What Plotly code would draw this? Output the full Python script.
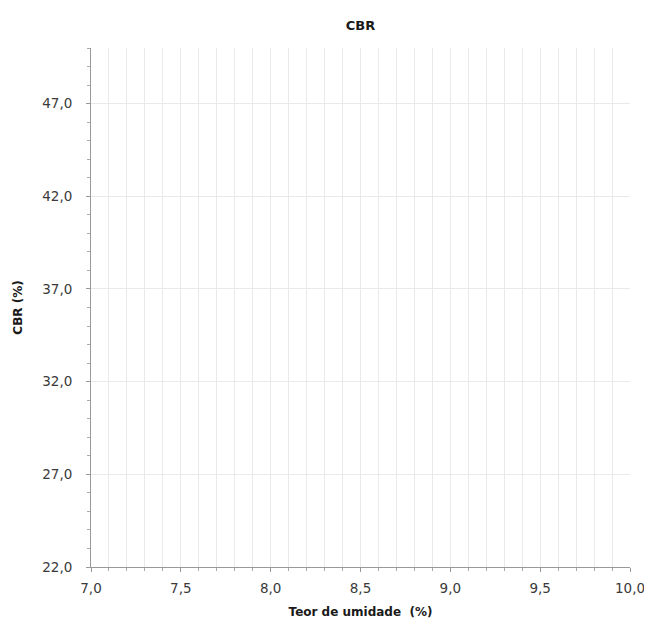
import plotly.graph_objects as go

# Data (chart is empty: only axes)
teor_umidade = []   # x values (%)
cbr_values = []     # y values (%)
x_range = [7.0, 10.0]
y_range = [22.0, 50.0]
x_major = 0.5
x_minor = 0.1
y_tick0 = 22.0
y_major = 5.0
y_minor = 1.0

fig = go.Figure()
fig.add_trace(go.Scatter(x=teor_umidade, y=cbr_values, mode="lines+markers",
                         showlegend=False))

FONT = "DejaVu Sans, Liberation Sans, Arial, sans-serif"
axis_font = dict(family=FONT, size=13.5, color="#3a3a3a")
title_font = dict(family=FONT, size=12, color="#1a1a1a")

W, H = 644, 621  # page body has an 8px margin

fig.update_layout(
    width=W, height=H,
    margin=dict(l=83, r=22, t=40, b=62),
    paper_bgcolor="white", plot_bgcolor="white",
    separators=",.",
    title=dict(text="<b>CBR</b>", x=0.5, xref="paper", xanchor="center",
               y=1 - 17 / H, yanchor="middle",
               font=dict(family=FONT, size=13, color="#1a1a1a")),
    xaxis=dict(
        range=x_range, tick0=x_range[0], dtick=x_major, tickformat=".1f",
        showgrid=True, gridcolor="#e9e9e9", gridwidth=1,
        showline=True, linecolor="#999", linewidth=1,
        ticks="outside", ticklen=4, tickcolor="#999",
        ticklabelstandoff=5,
        minor=dict(dtick=x_minor, tick0=x_range[0], showgrid=True, gridcolor="#e9e9e9",
                   ticks="outside", ticklen=3, tickcolor="#aaa"),
        tickfont=axis_font, zeroline=False, automargin=False,
        title=dict(text="<b>Teor de umidade  (%)</b>", font=title_font, standoff=12),
    ),
    yaxis=dict(
        range=y_range, tick0=y_tick0, dtick=y_major, tickformat=".1f",
        showgrid=True, gridcolor="#e9e9e9", gridwidth=1,
        showline=True, linecolor="#999", linewidth=1,
        ticks="outside", ticklen=4, tickcolor="#999",
        ticklabelstandoff=11,
        minor=dict(dtick=y_minor, tick0=y_tick0, showgrid=False,
                   ticks="outside", ticklen=3, tickcolor="#aaa"),
        tickfont=axis_font, zeroline=False, automargin=False,
        title=dict(text="<b>CBR (%)</b>", font=title_font, standoff=17),
    ),
)

fig.write_html("out.html")
